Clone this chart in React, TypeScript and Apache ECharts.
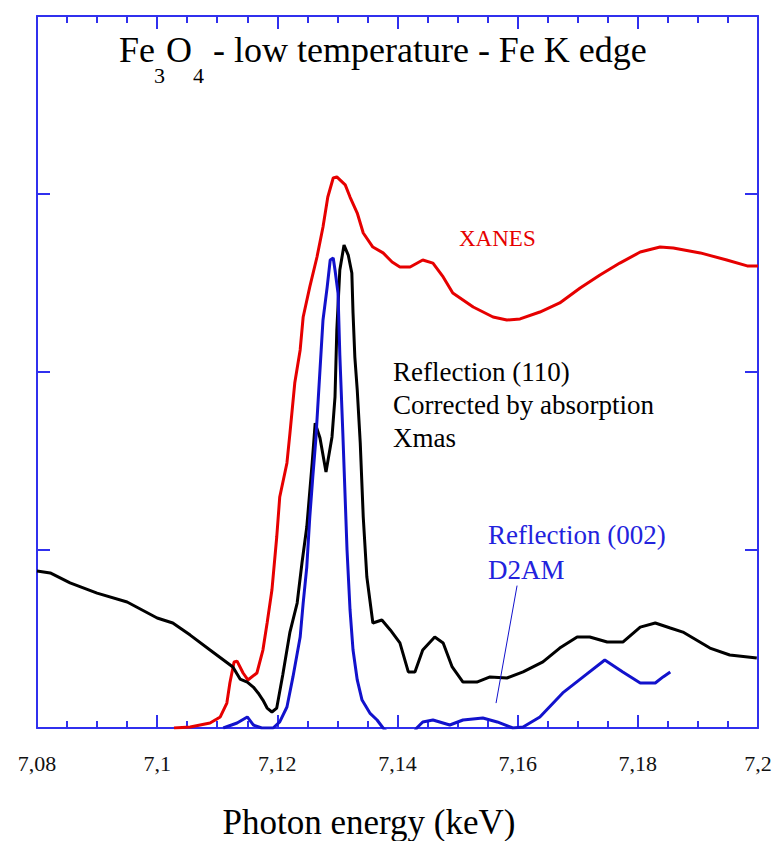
import React, { useEffect, useRef } from "react";
import * as echarts from "echarts";

// ---- data ----
const xanesEnergy = [7.1028, 7.1055, 7.1088, 7.1105, 7.1116, 7.1121, 7.1128, 7.1133, 7.1143, 7.1151, 7.1166, 7.1176, 7.1183, 7.1191, 7.1199, 7.1204, 7.1216, 7.1221, 7.1229, 7.1238, 7.1243, 7.1254, 7.1266, 7.1276, 7.1284, 7.1293, 7.1299, 7.1313, 7.1321, 7.1333, 7.1343, 7.1359, 7.1376, 7.1391, 7.1404, 7.1421, 7.1442, 7.1459, 7.1476, 7.1492, 7.1526, 7.1559, 7.1582, 7.1604, 7.1637, 7.167, 7.1704, 7.1737, 7.177, 7.1804, 7.1837, 7.1859, 7.1904, 7.1948, 7.1982, 7.2];
const xanesIntensity = [0.0, 0.006, 0.028, 0.062, 0.14, 0.253, 0.371, 0.376, 0.309, 0.27, 0.309, 0.438, 0.59, 0.775, 1.073, 1.298, 1.489, 1.657, 1.938, 2.124, 2.309, 2.478, 2.646, 2.815, 2.983, 3.09, 3.096, 3.051, 2.983, 2.893, 2.781, 2.702, 2.669, 2.618, 2.59, 2.59, 2.629, 2.612, 2.534, 2.444, 2.365, 2.309, 2.292, 2.298, 2.337, 2.388, 2.472, 2.545, 2.612, 2.674, 2.702, 2.697, 2.669, 2.629, 2.596, 2.596];

const xmasEnergy = [7.08, 7.0822, 7.0855, 7.09, 7.095, 7.1, 7.1026, 7.1055, 7.1088, 7.1126, 7.1138, 7.115, 7.116, 7.1168, 7.1176, 7.1183, 7.1191, 7.1199, 7.1209, 7.1221, 7.1233, 7.1241, 7.1249, 7.1258, 7.1263, 7.1271, 7.1281, 7.1291, 7.1296, 7.1299, 7.1304, 7.1311, 7.1318, 7.1324, 7.1326, 7.1329, 7.1333, 7.1338, 7.1343, 7.1349, 7.1354, 7.1359, 7.1374, 7.1388, 7.1404, 7.1418, 7.1429, 7.1442, 7.1462, 7.1476, 7.1491, 7.1509, 7.1532, 7.1554, 7.1582, 7.1609, 7.1642, 7.167, 7.1699, 7.172, 7.1749, 7.1775, 7.1804, 7.1829, 7.1854, 7.1875, 7.192, 7.1953, 7.1998];
const xmasIntensity = [0.882, 0.871, 0.815, 0.758, 0.708, 0.618, 0.59, 0.522, 0.438, 0.343, 0.275, 0.258, 0.23, 0.197, 0.157, 0.112, 0.09, 0.112, 0.298, 0.539, 0.702, 0.927, 1.129, 1.489, 1.713, 1.629, 1.438, 1.635, 1.86, 2.236, 2.573, 2.713, 2.657, 2.556, 2.331, 2.084, 1.899, 1.601, 1.185, 0.848, 0.719, 0.59, 0.607, 0.551, 0.478, 0.315, 0.315, 0.438, 0.511, 0.478, 0.343, 0.258, 0.258, 0.287, 0.281, 0.315, 0.371, 0.449, 0.511, 0.511, 0.483, 0.483, 0.567, 0.59, 0.562, 0.539, 0.449, 0.41, 0.393];

const d2amEnergy = [7.111, 7.1133, 7.115, 7.116, 7.1174, 7.1193, 7.1204, 7.1216, 7.1226, 7.1238, 7.1243, 7.1249, 7.1254, 7.1259, 7.1264, 7.1268, 7.1273, 7.1276, 7.1283, 7.1288, 7.1293, 7.1296, 7.1301, 7.1304, 7.1309, 7.1316, 7.1321, 7.1326, 7.1333, 7.1341, 7.1354, 7.1366, 7.1376, 7.1396, 7.1421, 7.1432, 7.1442, 7.1459, 7.1487, 7.1509, 7.1542, 7.1566, 7.1592, 7.1609, 7.1637, 7.1675, 7.1709, 7.1745, 7.1775, 7.1804, 7.1829, 7.1842, 7.1854];
const d2amIntensity = [0.0, 0.028, 0.062, 0.017, 0.0, 0.0, 0.034, 0.118, 0.287, 0.511, 0.702, 0.904, 1.185, 1.41, 1.618, 1.843, 2.124, 2.292, 2.478, 2.629, 2.64, 2.573, 2.444, 2.096, 1.657, 1.0, 0.663, 0.438, 0.27, 0.157, 0.084, 0.045, 0.0, -0.07, -0.07, 0.0, 0.034, 0.045, 0.017, 0.045, 0.056, 0.034, 0.0, 0.006, 0.062, 0.197, 0.287, 0.382, 0.315, 0.253, 0.253, 0.287, 0.315];

const pointerFrom = [7.1599, 0.8];
const pointerTo = [7.1564, 0.14];

const xMin = 7.08;
const xMax = 7.2;
const xStep = 0.02;
const yMin = 0;
const yMax = 4;
const yStep = 1;

const AXIS = "#3030ee";
const RED = "#e60000";
const BLUE = "#1212cc";
const SERIF = "'Liberation Serif', serif";

const zip = (xs: number[], ys: number[]) => xs.map((x, i) => [x, ys[i]]);

const fmt = (v: number) => String(Math.round(v * 1000) / 1000).replace(".", ",");

const txt = (x: number, y: number, text: string, size: number, fill: string, align = "left") => ({
  type: "text",
  x,
  y,
  style: { text, fill, fontFamily: SERIF, fontSize: size, align, verticalAlign: "middle" },
});

export default function App() {
  const ref = useRef<HTMLDivElement>(null);
  useEffect(() => {
    if (!ref.current) return;
    const chart = echarts.init(ref.current, undefined, { renderer: "svg" });
    const frameX = (position: "bottom" | "top", labels: boolean) => ({
      type: "value",
      min: xMin,
      max: xMax,
      interval: xStep,
      position,
      axisLine: { show: true, onZero: false, lineStyle: { color: AXIS, width: 2 } },
      axisTick: { show: true, inside: true, length: 13, lineStyle: { color: AXIS, width: 2 } },
      minorTick: { show: true, splitNumber: 4, length: 7, lineStyle: { color: AXIS, width: 2 } },
      splitLine: { show: false },
      minorSplitLine: { show: false },
      axisLabel: {
        show: labels,
        margin: 24,
        fontFamily: SERIF,
        fontSize: 22,
        color: "#111",
        formatter: fmt,
      },
    });
    const frameY = (position: "left" | "right") => ({
      type: "value",
      min: yMin,
      max: yMax,
      interval: yStep,
      position,
      axisLine: { show: true, onZero: false, lineStyle: { color: AXIS, width: 2 } },
      axisTick: { show: true, inside: true, length: 13, lineStyle: { color: AXIS, width: 2 } },
      axisLabel: { show: false },
      splitLine: { show: false },
    });
    chart.setOption({
      animation: false,
      backgroundColor: "#ffffff",
      textStyle: { fontFamily: SERIF },
      grid: { left: 37, right: 18, top: 16, bottom: 113, containLabel: false },
      xAxis: [frameX("bottom", true), frameX("top", false)],
      yAxis: [frameY("left"), frameY("right")],
      series: [
        {
          name: "XANES",
          type: "line",
          data: zip(xanesEnergy, xanesIntensity),
          showSymbol: false,
          clip: true,
          lineStyle: { color: RED, width: 3 },
          z: 2,
        },
        {
          name: "Reflection (110)",
          type: "line",
          data: zip(xmasEnergy, xmasIntensity),
          showSymbol: false,
          clip: true,
          lineStyle: { color: "#000000", width: 3 },
          z: 3,
        },
        {
          name: "Reflection (002)",
          type: "line",
          data: zip(d2amEnergy, d2amIntensity),
          showSymbol: false,
          clip: true,
          lineStyle: { color: BLUE, width: 3 },
          z: 4,
          markLine: {
            silent: true,
            symbol: ["none", "none"],
            label: { show: false },
            lineStyle: { color: BLUE, width: 1, type: "solid" },
            data: [[{ coord: pointerFrom }, { coord: pointerTo }]],
          },
        },
      ],
      graphic: [
        txt(119, 50, "Fe", 36, "#000"),
        txt(154, 75, "3", 22, "#000"),
        txt(166, 50, "O", 36, "#000"),
        txt(193, 75, "4", 22, "#000"),
        txt(213, 50, "- low temperature - Fe K edge", 36, "#000"),
        txt(459, 238, "XANES", 23, RED),
        txt(393, 372, "Reflection (110)", 27, "#000"),
        txt(393, 405, "Corrected by absorption", 27, "#000"),
        txt(393, 438, "Xmas", 27, "#000"),
        txt(488, 535, "Reflection (002)", 27, "#2222dd"),
        txt(488, 570, "D2AM", 27, "#2222dd"),
        txt(369, 822, "Photon energy (keV)", 35, "#000", "center"),
      ],
    });
    return () => chart.dispose();
  }, []);
  return (
    <div
      ref={ref}
      style={{ position: "fixed", left: 0, top: 0, width: 776, height: 841, background: "#fff" }}
    />
  );
}
